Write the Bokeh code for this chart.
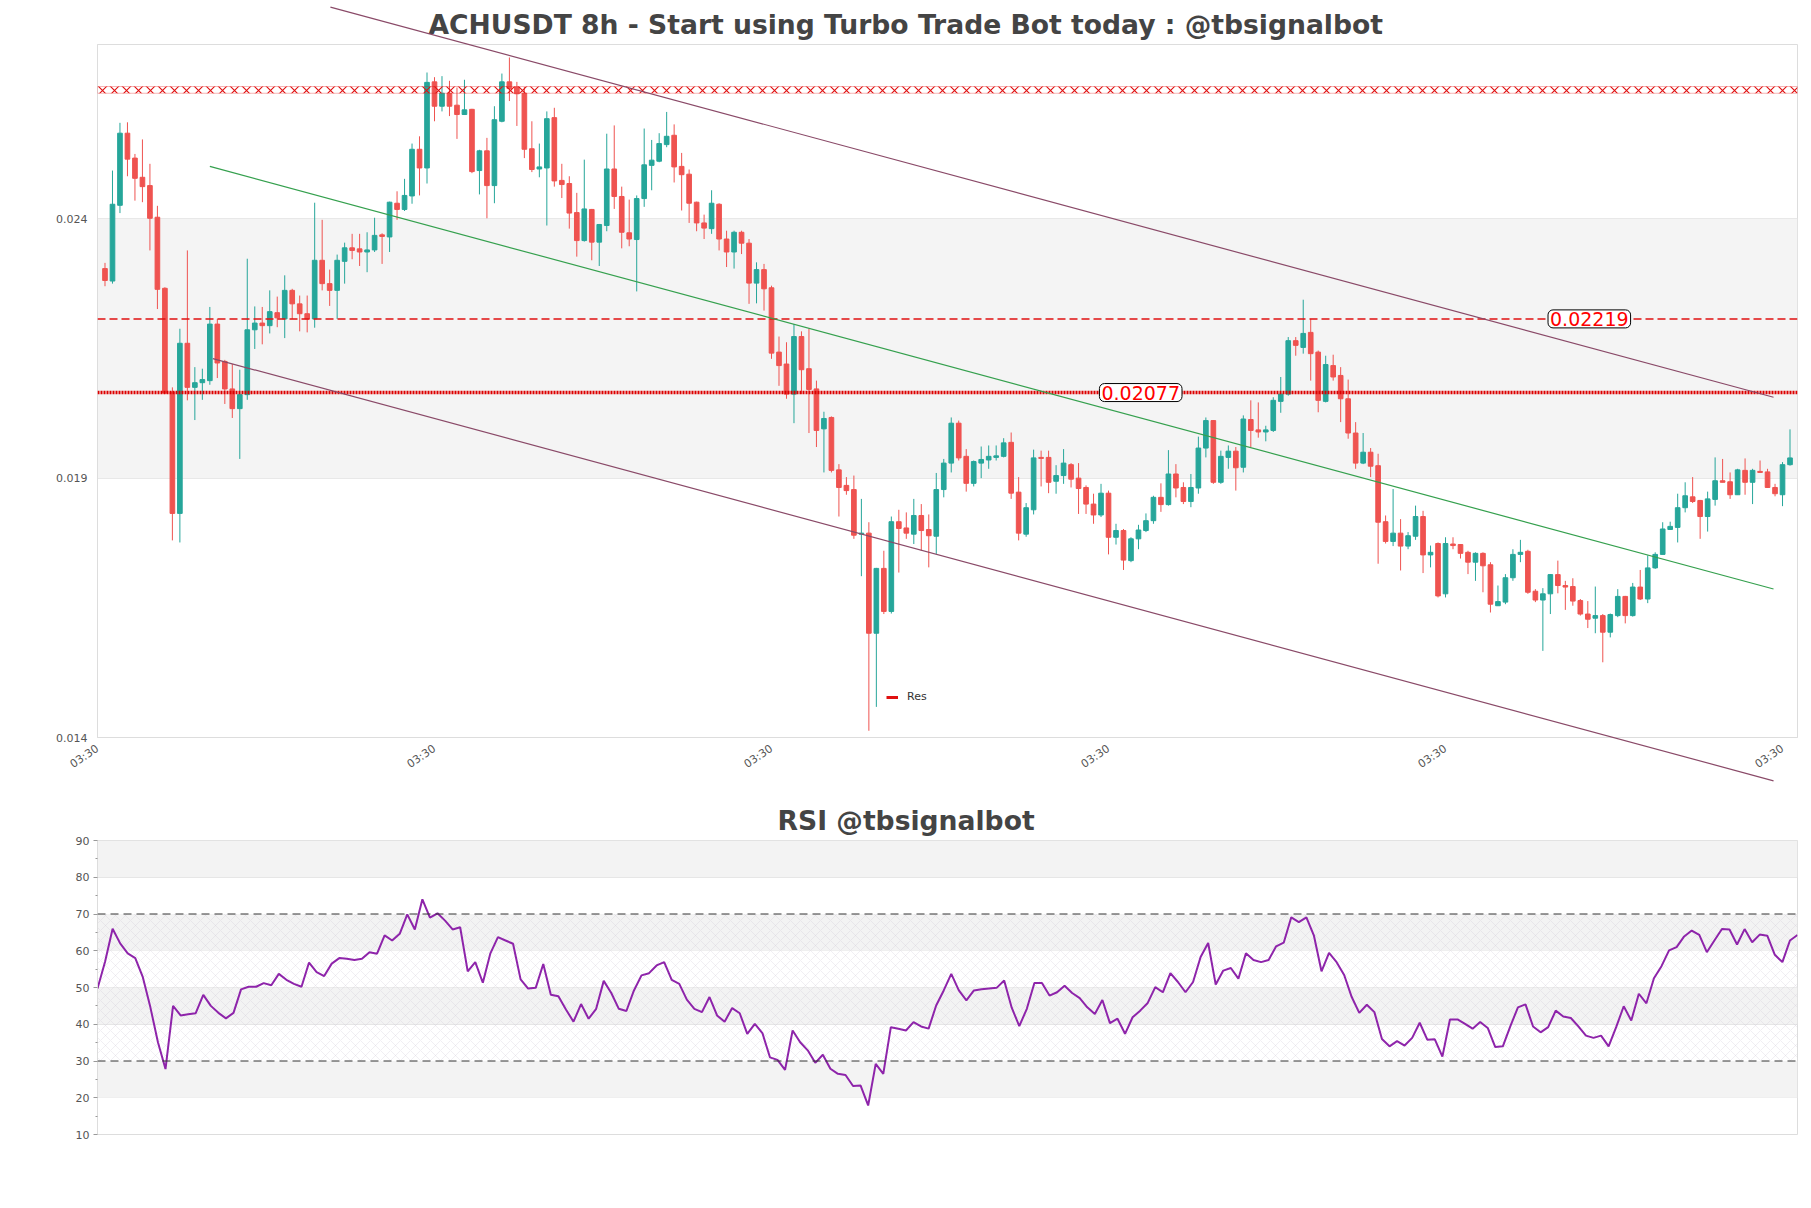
import math
from bokeh.plotting import figure
from bokeh.layouts import column
from bokeh.models import (ColumnDataSource, Range1d, FixedTicker, Label, Legend,
                          LegendItem, BoxAnnotation, Span, NumeralTickFormatter)
from bokeh.embed import file_html
from bokeh.resources import INLINE

# ---------------- data (prices in units of 1e-5 USDT) ----------------
OPEN_E5 = [2316,2292,2438,2577,2529,2492,2476,2415,2278,2078,
1844,2172,2087,2096,2100,2209,2137,2084,2046,2073,
2198,2211,2206,2231,2219,2274,2248,2229,2219,2332,
2287,2274,2330,2356,2354,2348,2352,2381,2377,2442,
2430,2456,2546,2510,2676,2629,2654,2631,2613,2623,
2505,2543,2476,2600,2676,2666,2654,2547,2508,2510,
2607,2486,2480,2424,2370,2430,2367,2399,2508,2455,
2385,2372,2451,2515,2523,2555,2573,2513,2498,2444,
2404,2393,2440,2373,2348,2386,2365,2288,2314,2279,
2155,2132,2074,2185,2123,2084,2007,2029,1928,1898,
1890,1804,1806,1613,1738,1655,1828,1816,1804,1840,
1813,1800,1890,1941,2018,1954,1902,1941,1947,1952,
1954,1981,1885,1804,1851,1952,1952,1906,1917,1938,
1912,1894,1862,1841,1883,1798,1811,1753,1795,1811,
1830,1875,1861,1920,1894,1867,1893,1970,2023,1904,
1952,1964,1933,2025,2005,2001,2004,2060,2074,2177,
2164,2193,2155,2060,2129,2110,2065,1999,1941,1962,
1936,1828,1790,1806,1781,1800,1838,1764,1786,1689,
1785,1784,1769,1750,1767,1745,1666,1673,1720,1765,
1771,1694,1677,1689,1726,1705,1703,1676,1650,1642,
1647,1615,1647,1684,1647,1702,1679,1739,1765,1813,
1817,1855,1876,1869,1838,1871,1907,1905,1880,1927,
1904,1925,1924,1894,1880,1938]

HIGH_E5 = [2327,2505,2597,2598,2537,2565,2518,2437,2280,2087,
2200,2351,2126,2123,2242,2219,2140,2132,2121,2335,
2243,2242,2274,2262,2303,2277,2264,2264,2443,2410,
2314,2343,2366,2383,2383,2386,2414,2384,2445,2465,
2489,2557,2571,2694,2685,2687,2678,2665,2680,2624,
2545,2568,2629,2692,2723,2676,2666,2600,2557,2619,
2626,2518,2494,2462,2526,2431,2402,2576,2592,2474,
2449,2457,2586,2564,2577,2618,2594,2539,2507,2445,
2420,2467,2442,2389,2389,2389,2373,2328,2325,2283,
2185,2174,2209,2195,2200,2100,2040,2031,1939,1914,
1917,1872,1827,1739,1772,1838,1851,1846,1872,1862,
1842,1922,1949,2029,2023,1968,1946,1973,1975,1975,
1989,2000,1914,1864,1967,1965,1965,1937,1968,1941,
1941,1898,1882,1901,1888,1824,1814,1798,1822,1844,
1878,1902,1966,1939,1904,1920,1992,2029,2024,1965,
1975,1972,2033,2062,2058,2013,2068,2107,2184,2184,
2256,2219,2158,2148,2150,2126,2102,2020,1999,1970,
1959,1840,1891,1833,1808,1859,1849,1782,1788,1798,
1798,1785,1772,1769,1769,1750,1705,1727,1775,1793,
1774,1698,1700,1727,1753,1714,1719,1679,1675,1703,
1650,1651,1698,1685,1710,1735,1763,1769,1827,1828,
1882,1904,1914,1870,1886,1952,1949,1923,1930,1950,
1930,1946,1930,1901,1943,2006]

LOW_E5 = [2282,2287,2423,2494,2447,2444,2351,2238,2074,1792,
1788,2062,2024,2063,2092,2105,2055,2028,1949,2063,
2161,2170,2191,2203,2182,2219,2195,2193,2202,2274,
2244,2219,2287,2334,2321,2309,2348,2325,2348,2410,
2427,2441,2457,2480,2600,2619,2610,2566,2613,2500,
2459,2413,2442,2598,2639,2591,2529,2502,2492,2399,
2474,2452,2393,2339,2368,2332,2321,2388,2431,2355,
2359,2272,2435,2467,2521,2550,2482,2428,2404,2388,
2373,2383,2351,2319,2316,2344,2248,2249,2235,2142,
2090,2065,2018,2074,1999,1972,1923,1923,1838,1880,
1795,1723,1425,1471,1650,1651,1730,1795,1785,1772,
1740,1766,1875,1923,1946,1886,1896,1912,1930,1946,
1952,1872,1792,1799,1842,1896,1883,1882,1901,1894,
1843,1843,1824,1837,1765,1784,1735,1750,1775,1808,
1824,1847,1859,1875,1862,1856,1882,1952,1901,1901,
1930,1888,1923,1972,1990,1983,2001,2038,2071,2148,
2152,2100,2039,2058,2100,2020,1988,1930,1939,1914,
1747,1786,1781,1734,1775,1793,1729,1740,1682,1682,
1775,1757,1727,1714,1692,1653,1666,1669,1714,1750,
1689,1673,1579,1650,1690,1658,1666,1647,1623,1613,
1557,1605,1644,1632,1645,1677,1671,1737,1765,1812,
1788,1846,1864,1795,1809,1859,1904,1872,1880,1880,
1862,1922,1893,1877,1858,1936]

CLOSE_E5 = [2293,2440,2577,2527,2490,2474,2413,2276,2076,1844,
2172,2087,2096,2102,2209,2134,2084,2046,2073,2198,
2211,2206,2233,2221,2274,2248,2229,2219,2332,2287,
2274,2332,2356,2351,2348,2352,2380,2378,2444,2430,
2457,2546,2510,2675,2629,2654,2629,2613,2622,2503,
2543,2476,2603,2676,2663,2653,2546,2507,2512,2605,
2485,2478,2423,2370,2431,2367,2401,2508,2455,2386,
2373,2451,2516,2525,2557,2571,2512,2497,2442,2404,
2394,2442,2373,2348,2386,2365,2288,2314,2277,2153,
2129,2074,2185,2121,2083,2004,2027,1927,1894,1888,
1802,1806,1613,1738,1655,1828,1815,1806,1840,1811,
1801,1890,1941,2018,1951,1902,1944,1948,1954,1955,
1980,1883,1806,1855,1951,1950,1904,1917,1941,1910,
1892,1862,1841,1883,1798,1811,1754,1795,1812,1830,
1875,1861,1920,1893,1867,1894,1970,2023,1904,1954,
1964,1932,2026,2004,2001,2005,2062,2074,2177,2168,
2191,2152,2062,2131,2107,2065,1999,1941,1962,1935,
1827,1790,1806,1781,1801,1838,1764,1769,1685,1786,
1782,1767,1750,1767,1743,1669,1674,1720,1765,1769,
1692,1677,1689,1726,1705,1702,1675,1650,1640,1647,
1615,1649,1684,1647,1702,1679,1739,1765,1814,1819,
1855,1878,1867,1838,1872,1907,1904,1880,1928,1904,
1927,1923,1894,1882,1938,1951]

RSI = [49.7, 57, 66, 62, 59.3, 58, 52.8, 44.6, 35.1, 27.8,
 45, 42.4, 42.7, 43, 48, 45, 43.1, 41.6, 43.1, 49.5,
 50.2, 50.2, 51.2, 50.6, 53.7, 52.1, 51, 50.2, 56.8, 54.2,
 53.1, 56.5, 58, 57.8, 57.5, 57.8, 59.6, 59.2, 64.2, 62.8,
 64.6, 69.9, 65.8, 74, 69, 70.2, 68.2, 65.8, 66.4, 54.4,
 56.9, 51.3, 59.3, 63.7, 62.8, 61.9, 52.2, 49.7, 49.9, 56.4,
 48, 47.6, 44, 40.7, 45.5, 41.5, 44.2, 51.8, 48.5, 44.2,
 43.6, 49.2, 53.3, 53.9, 56, 56.9, 52.1, 51, 46.7, 44.2,
 43.3, 47.4, 42.4, 40.7, 44.4, 43, 37.4, 40.1, 37.6, 31,
 30.3, 27.6, 38.3, 35.1, 32.9, 29.5, 31.7, 27.9, 26.5, 26.2,
 23.2, 23.3, 17.9, 29.2, 26.5, 39.2, 38.8, 38.3, 40.6, 39.4,
 38.8, 45.1, 49.2, 53.7, 49.2, 46.5, 49.2, 49.5, 49.7, 49.9,
 51.9, 44.5, 39.5, 44.2, 51.2, 51.2, 47.8, 48.7, 50.5, 48.5,
 47.1, 44.6, 42.8, 46.6, 40.3, 41.5, 37.4, 41.9, 43.7, 45.8,
 50.1, 48.7, 53.9, 51.5, 48.7, 51.5,
 58.3, 62.1, 50.8, 54.6, 55.3, 52.4, 59.3, 57.5, 56.9, 57.5,
 61.2, 62.2, 69.1, 67.8, 69.1, 64.1, 54.4, 59.4, 56.9, 53.4,
 47.4, 43.1, 45.3, 43.3, 36, 34, 35.4, 34.2, 36.3, 40.4,
 35.8, 35.9, 31.2, 41.3, 41.3, 40.1, 38.8, 40.6, 39, 33.8,
 34, 39.5, 44.6, 45.4, 39.4, 37.8, 39.2, 43.7, 42.1, 41.7,
 39.4, 36.9, 36.3, 36.9, 34, 39.2, 44.9, 41, 48.3, 45.7,
 52.5, 55.8, 60.1, 61, 63.9, 65.5, 64.3, 59.6, 62.8, 65.9,
 65.8, 61.7, 65.9, 62.3, 64.4, 64.1, 58.9, 56.9, 62.8, 64.3]

x_tick_pos = [-1, 44, 89, 134, 179, 224]
x_tick_text = ["03:30", "03:30", "03:30", "03:30", "03:30", "03:30"]
price_ticks = [0.01412, 0.01912, 0.02412]
price_min, price_max = 0.01412, 0.02748

res_dashed = 0.02219
res_dotted = 0.02077
hatch_band = [0.02654, 0.02667]

# trend channel end points (candle index, price)
upper_x, upper_y = [30.1, 222.8], [0.028202, 0.020679]
mid_x, mid_y = [14.0, 222.8], [0.025129, 0.016983]
lower_x, lower_y = [14.4, 222.8], [0.021425, 0.013285]

rsi_ticks = [10, 20, 30, 40, 50, 60, 70, 80, 90]
rsi_levels = [70, 30]

TITLE = "ACHUSDT 8h - Start using Turbo Trade Bot today : @tbsignalbot"
RSI_TITLE = "RSI @tbsignalbot"

UP, DOWN = "#26a69a", "#ef5350"
FONT = "DejaVu Sans"

# ---------------- main candle chart ----------------
n = len(OPEN_E5)
o = [v / 1e5 for v in OPEN_E5]
h = [v / 1e5 for v in HIGH_E5]
l = [v / 1e5 for v in LOW_E5]
c = [v / 1e5 for v in CLOSE_E5]
src = ColumnDataSource(dict(
    x=list(range(n)), o=o, h=h, l=l, c=c,
    top=[max(a, b) for a, b in zip(o, c)],
    bot=[min(a, b) for a, b in zip(o, c)],
    col=[UP if b >= a else DOWN for a, b in zip(o, c)],
))

p = figure(width=1811, height=790, x_range=Range1d(-1, n), y_range=Range1d(price_min, price_max),
           output_backend="svg", toolbar_location=None,
           min_border_left=97, min_border_right=14, min_border_top=44, min_border_bottom=53)
p.background_fill_color = "white"
p.border_fill_color = "white"
p.outline_line_color = "#dddddd"

p.title.text = TITLE
p.title.align = "left"
p.title.offset = 331
p.title.text_font = FONT
p.title.text_font_size = "26.6px"
p.title.text_font_style = "bold"
p.title.text_color = "#444444"

# background band between the two upper ticks
p.add_layout(BoxAnnotation(bottom=price_ticks[1], top=price_ticks[2], fill_color="#f4f4f4",
                           fill_alpha=1, line_alpha=0, level="underlay"))

p.segment(x0="x", y0="l", x1="x", y1="h", color="col", line_width=1, source=src)
p.vbar(x="x", width=0.62, top="top", bottom="bot", fill_color="col", line_color="col",
       line_width=1, source=src)

# resistance levels
p.add_layout(Span(location=res_dashed, dimension="width", line_color="#e01010",
                  line_dash="8 4", line_width=1.5))
p.add_layout(Span(location=res_dotted, dimension="width", line_color="#dd0000",
                  line_dash="2 1", line_width=3.5))
p.add_layout(BoxAnnotation(bottom=hatch_band[0], top=hatch_band[1], fill_alpha=0,
                           line_color="#e01010", line_width=1, hatch_pattern="x",
                           hatch_color="#e01010", hatch_scale=12, hatch_weight=1.1))

for xv, yv, txt in [(198.2, res_dashed, f"{res_dashed:.5f}"), (138.3, res_dotted, f"{res_dotted:.5f}")]:
    p.add_layout(Label(x=xv, y=yv, text=txt, text_align="center", text_baseline="middle",
                       text_color="#ff0000", text_font=FONT, text_font_size="19px",
                       background_fill_color="white", background_fill_alpha=1,
                       border_line_color="black", border_line_width=1, border_radius=5,
                       padding=2))

# trend channel (drawn unclipped)
p.line(upper_x, upper_y, line_color="#8a4a68", line_width=1.2, level="overlay")
p.line(lower_x, lower_y, line_color="#8a4a68", line_width=1.2, level="overlay")
p.line(mid_x, mid_y, line_color="#35a04e", line_width=1.2, level="overlay")

# legend (dummy renderer carrying the legend swatch)
res_r = p.line(x=[float("nan")], y=[float("nan")], line_color="#e01010", line_width=3)
leg = Legend(items=[LegendItem(label="Res", renderers=[res_r])], location=(789, 34),
             padding=0, margin=0, spacing=0, glyph_width=12, glyph_height=8,
             label_standoff=9, label_text_font=FONT, label_text_font_size="11px",
             label_text_color="#333333", border_line_alpha=0, background_fill_alpha=0)
p.add_layout(leg)

p.yaxis.ticker = FixedTicker(ticks=price_ticks)
p.yaxis.formatter = NumeralTickFormatter(format="0.000")
p.xaxis.ticker = FixedTicker(ticks=x_tick_pos)
p.xaxis.major_label_overrides = {k: v for k, v in zip(x_tick_pos, x_tick_text)}
p.xaxis.major_label_orientation = 0.6
for ax in (p.xaxis, p.yaxis):
    ax.axis_line_color = "#dddddd"
    ax.major_tick_line_color = None
    ax.minor_tick_line_color = None
    ax.major_label_text_font = FONT
    ax.major_label_text_font_size = "11px"
    ax.major_label_text_color = "#555555"
p.yaxis.major_label_standoff = 4
p.xaxis.major_label_standoff = 4
p.xgrid.grid_line_color = None
p.ygrid.grid_line_color = "#e4e4e4"

# ---------------- RSI chart ----------------
p2 = figure(width=1811, height=418, x_range=Range1d(0, len(RSI) - 1), y_range=Range1d(rsi_ticks[0], rsi_ticks[-1]),
            output_backend="svg", toolbar_location=None,
            min_border_left=97, min_border_right=14, min_border_top=50, min_border_bottom=74)
p2.background_fill_color = "white"
p2.border_fill_color = "white"
p2.outline_line_color = "#dddddd"
p2.title.text = RSI_TITLE
p2.title.align = "left"
p2.title.offset = 680
p2.title.text_font = FONT
p2.title.text_font_size = "26.6px"
p2.title.text_font_style = "bold"
p2.title.text_color = "#444444"

for k in range(1, len(rsi_ticks) - 1, 2):
    p2.add_layout(BoxAnnotation(bottom=rsi_ticks[k], top=rsi_ticks[k + 1], fill_color="#f3f3f3",
                                fill_alpha=1, line_alpha=0, level="underlay"))
p2.add_layout(BoxAnnotation(bottom=rsi_levels[1], top=rsi_levels[0], fill_alpha=0,
                            line_alpha=0, hatch_pattern="x", hatch_color="#c4bccb", hatch_alpha=0.4,
                            hatch_scale=10, hatch_weight=0.6, level="underlay"))
for lv in rsi_levels:
    p2.add_layout(Span(location=lv, dimension="width", line_color="#333333", line_dash="8 5", line_width=1))

p2.line(list(range(len(RSI))), RSI, line_color="#8e24aa", line_width=2)

p2.xaxis.visible = False
p2.xgrid.grid_line_color = None
p2.ygrid.grid_line_color = "#e2e2e2"
p2.yaxis.ticker = FixedTicker(ticks=rsi_ticks, minor_ticks=[t + 5 for t in rsi_ticks[:-1]])
p2.yaxis.axis_line_color = "#dddddd"
p2.yaxis.major_tick_line_color = "#999999"
p2.yaxis.minor_tick_line_color = "#999999"
p2.yaxis.major_tick_out = 4
p2.yaxis.major_tick_in = 0
p2.yaxis.minor_tick_out = 2
p2.yaxis.minor_tick_in = 0
p2.yaxis.major_label_standoff = 4
p2.yaxis.major_label_text_font = FONT
p2.yaxis.major_label_text_font_size = "11px"
p2.yaxis.major_label_text_color = "#555555"

layout = column(p, p2, spacing=0)
open("out.html", "w").write(file_html(layout, INLINE))
